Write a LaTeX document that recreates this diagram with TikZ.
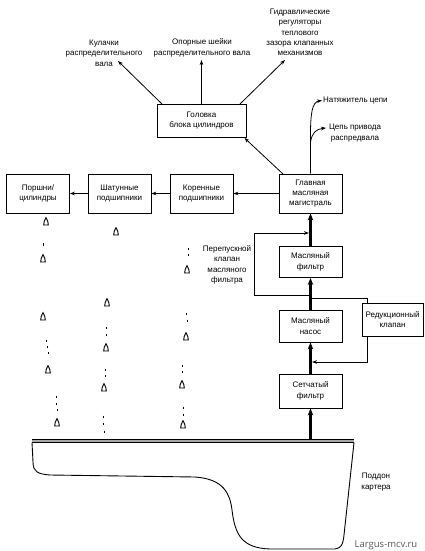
\documentclass[tikz,border=0pt]{standalone}
\usepackage{fontspec}
\setmainfont{Liberation Sans}
\newfontfamily\wmfont{Open Sans}
\usetikzlibrary{arrows.meta,calc}
\newcommand{\lblfont}{\fontsize{8}{10.3}\selectfont}
\tikzset{
  blk/.style={draw, line width=0.8pt, minimum width=63pt, align=center, font=\lblfont, inner sep=0pt},
  lbl/.style={align=center, font=\lblfont, inner sep=0pt},
  thin arr/.style={line width=0.8pt, -{Stealth[length=5pt,width=3.6pt]}},
  thick arr/.style={line width=2.2pt, -{Stealth[length=7pt,width=5.5pt]}},
  plain/.style={line width=0.8pt},
  droplet/.pic={\draw[line width=0.9pt, fill=white] (0,-4.4) .. controls (1.1,-1.5) and (2.9,0.4) .. (2.3,3) -- (-2.3,3) .. controls (-2.9,0.4) and (-1.1,-1.5) .. cycle;},
  tick/.pic={\draw[line width=1pt] (0,-1.3) -- (0,1.3);}
}
\begin{document}
\begin{tikzpicture}[x=1pt,y=-1pt]
\useasboundingbox (0,0) rectangle (424,551);
% boxes
\node[blk, minimum height=39pt] (mag) at (310.5,193.5) {Главная\\масляная\\магистраль};
\node[blk, minimum height=31pt] (filt) at (310.5,262) {Масляный\\фильтр};
\node[blk, minimum height=32pt] (pump) at (310.5,326) {Масляный\\насос};
\node[blk, minimum height=34pt] (strainer) at (310.5,391) {Сетчатый\\фильтр};
\node[blk, minimum height=33pt, minimum width=61pt] (relief) at (392.5,319.5) {Редукционный\\клапан};
\node[blk, minimum height=39pt] (main) at (201.5,193.5) {Коренные\\подшипники};
\node[blk, minimum height=39pt] (rod) at (119.5,193.5) {Шатунные\\подшипники};
\node[blk, minimum height=39pt] (pist) at (38,193.5) {Поршни/\\цилиндры};
\node[blk, minimum height=33pt, minimum width=89pt] (head) at (201.5,120.5) {Головка\\блока цилиндров};
% labels
\node[lbl] (cams) at (104,53) {Кулачки\\распределительного\\вала};
\node[lbl] (journ) at (202,48) {Опорные шейки\\распределительного вала};
\node[lbl] (hyd) at (300,32.5) {Гидравлические\\регуляторы\\теплового\\зазора клапанных\\механизмов};
\node[lbl, anchor=west] (tens) at (323,100.5) {Натяжитель цепи};
\node[lbl] (chain) at (355,133) {Цепь привода\\распредвала};
\node[lbl] (bypass) at (227,265) {Перепускной\\клапан\\масляного\\фильтра};
\node[lbl] (sump) at (376,482) {Поддон\\картера};
\node[font=\wmfont\fontsize{9.5}{11}\selectfont, text=black!65, inner sep=0pt] (wm) at (386,545) {Largus-mcv.ru};
% coordinates
\coordinate (pantop) at (310.5,439);
\coordinate (bpR) at (310.5,295);
\coordinate (bpL) at (254,295);
\coordinate (bpTL) at (254,233);
\coordinate (bpTR) at (309,233);
\coordinate (rvA) at (310.5,298);
\coordinate (rvB) at (367,298);
\coordinate (rvC) at (367,362);
\coordinate (rvD) at (312,362);
\coordinate (magTL) at (283,174);
\coordinate (headBR) at (244.5,138);
\coordinate (headTL) at (162,104);
\coordinate (headTR) at (240,104);
\coordinate (camsE) at (118,61);
\coordinate (journE) at (201.5,60);
\coordinate (hydE) at (285,60);
\coordinate (chainJ) at (310.5,142);
\coordinate (tensE) at (322,100.5);
\coordinate (chainE) at (326,128);
% main thick line
\draw[thick arr] (pantop) -- (strainer.south);
\draw[thick arr] (strainer.north) -- (pump.south);
\draw[thick arr] (pump.north) -- (filt.south);
\draw[thick arr] (filt.north) -- (mag.south);
% bypass loop
\draw[plain] (bpR) -- (bpL) -- (bpTL);
\draw[thin arr] (bpTL) -- (bpTR);
% relief valve loop
\draw[plain] (rvA) -- (rvB) -- (rvB |- relief.north);
\draw[thin arr] (rvB |- relief.south) -- (rvC) -- (rvD);
% horizontal arrows
\draw[thin arr] (mag.west) -- (main.east);
\draw[thin arr] (main.west) -- (rod.east);
\draw[thin arr] (rod.west) -- (pist.east);
% to head
\draw[thin arr] (magTL) -- (headBR);
\draw[thin arr] (headTL) -- (camsE);
\draw[thin arr] (head.north) -- (journE);
\draw[thin arr] (headTR) -- (hydE);
% chain
\draw[thin arr] (mag.north) -- (310.5,135) .. controls (310.5,114) and (312,102) .. (tensE);
\draw[thin arr] (chainJ) .. controls (312,133) and (316,129) .. (chainE);
% sump
\fill[black!35] (32,439) rectangle (354,442.5);
\draw[line width=1pt] (32,439) -- (354,439);
\draw[line width=0.7pt] (32,442.5) -- (354,442.5);
\draw[line width=0.9pt] (32,442.5) -- (33,462) .. controls (33,472) and (38,474) .. (50,475) -- (195,477) .. controls (224,479) and (230,494) .. (232,510) .. controls (235,535) and (242,548) .. (270,549) -- (335,549) .. controls (341,548) and (343,545) .. (344,535) -- (354,442.5);
% drops column 1
\pic at (46,222) {droplet};
\pic at (43,244.5) {tick};
\pic at (43,259) {droplet};
\pic at (43,317) {droplet};
\pic at (46,341) {tick};
\pic at (47,347) {tick};
\pic at (48,353) {tick};
\pic at (48,370) {droplet};
\pic at (56,397) {tick};
\pic at (56,404) {tick};
\pic at (57,410) {tick};
\pic at (57,423) {droplet};
% drops column 2
\pic at (116,232) {droplet};
\pic at (107,303) {droplet};
\pic at (106,328) {tick};
\pic at (106,335) {tick};
\pic at (106,348) {droplet};
\pic at (105,370) {tick};
\pic at (105,376) {tick};
\pic at (104,388) {droplet};
\pic at (103,417) {tick};
\pic at (103,424) {tick};
\pic at (104,432) {tick};
% drops column 3
\pic at (188,249) {tick};
\pic at (188,255) {tick};
\pic at (187,270) {droplet};
\pic at (186,314) {tick};
\pic at (187,321) {tick};
\pic at (186,337) {droplet};
\pic at (182,366) {tick};
\pic at (182,372) {tick};
\pic at (182,385) {droplet};
\pic at (183,408) {tick};
\pic at (183,415) {tick};
\pic at (183,425) {droplet};
\end{tikzpicture}
\end{document}
